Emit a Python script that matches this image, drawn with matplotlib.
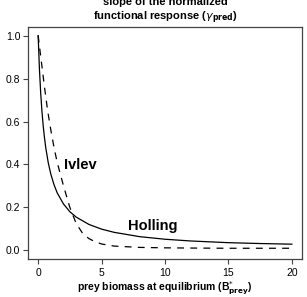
import numpy as np
import matplotlib
matplotlib.use("Agg")
import matplotlib.pyplot as plt

# ==== data ====
holling_x = [0, 0.1, 0.2, 0.3, 0.4, 0.5, 0.6, 0.8, 1.0, 1.25, 1.5, 2, 2.5, 3,
             4, 5, 6, 8, 10, 12, 15, 17.5, 20]
holling_y = [1.0, 0.846, 0.733, 0.647, 0.579, 0.524, 0.478, 0.407, 0.355,
             0.306, 0.268, 0.216, 0.180, 0.155, 0.121, 0.099, 0.084, 0.064,
             0.052, 0.044, 0.036, 0.032, 0.029]

ivlev_x = [0, 0.25, 0.5, 0.75, 1.0, 1.25, 1.5, 2, 2.5, 3, 3.5, 4, 4.5, 5, 6,
           8, 10, 12, 15, 20]
ivlev_y = [1.0, 0.88, 0.76, 0.65, 0.56, 0.48, 0.41, 0.30, 0.20, 0.125, 0.08,
           0.055, 0.04, 0.03, 0.02, 0.014, 0.012, 0.011, 0.01, 0.01]

xticks = [0, 5, 10, 15, 20]
yticks = [0.0, 0.2, 0.4, 0.6, 0.8, 1.0]

plt.rcParams.update({'font.family': ['Liberation Sans', 'DejaVu Sans'],
                     'font.size': 7,
                     'axes.edgecolor': '#444444',
                     'xtick.color': '#444444', 'ytick.color': '#444444',
                     'xtick.labelcolor': 'black', 'ytick.labelcolor': 'black'})

fig = plt.figure(figsize=(3.07, 2.97), dpi=100)
ax = fig.add_axes([28/307, 38/297, 274/307, 232/297])

ax.plot(holling_x, holling_y, color='black', lw=0.9)
ax.plot(ivlev_x, ivlev_y, color='black', lw=0.9, ls=(0, (5.5, 5)))

ax.text(2.06, 0.38, 'Ivlev', fontsize=10.5, fontweight='bold', va='baseline')
ax.text(7.1, 0.093, 'Holling', fontsize=10.5, fontweight='bold', va='baseline')

ax.set_xlim(-0.8, 20.8)
ax.set_ylim(-0.04, 1.04)
ax.set_xticks(xticks)
ax.set_yticks(yticks)
ax.set_yticklabels([f'{v:.1f}' for v in yticks])
ax.tick_params(direction='out', length=3.5, width=0.8, labelsize=7.5)
ax.tick_params(axis='x', pad=3)
ax.tick_params(axis='y', pad=2)
for s in ax.spines.values():
    s.set_linewidth(0.9)

ax.set_xlabel(r'prey biomass at equilibrium (B$^{*}_{\mathbf{prey}}$)',
              fontsize=7.5, fontweight='bold', labelpad=1)
ax.set_title('slope of the normalized\n'
             r'functional response ($\gamma_{\mathbf{pred}}$)',
             fontsize=8, fontweight='bold', pad=5, linespacing=1.2)

fig.savefig('out.png', dpi=100)
